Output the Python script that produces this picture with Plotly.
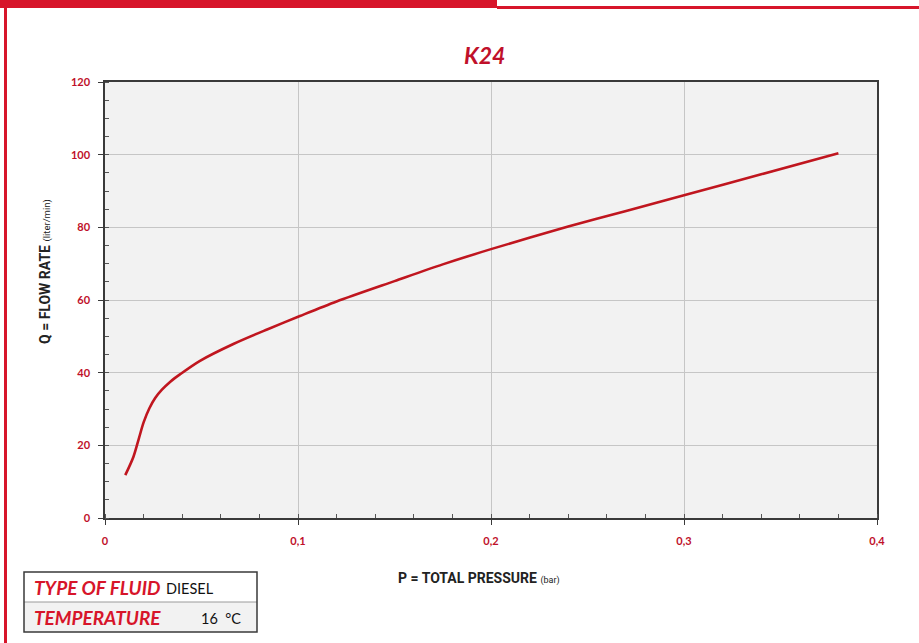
import plotly.graph_objects as go

# ---- data ----
pressure_bar = [0.0105, 0.0147, 0.0175, 0.0200, 0.0230, 0.0260, 0.0295, 0.0340, 0.0390,
                0.0490, 0.0665, 0.0840, 0.1010, 0.1200, 0.1500, 0.1750, 0.2000, 0.2400,
                0.2700, 0.3000, 0.3400, 0.3800]
flow_lpm = [11.8, 16.8, 21.8, 26.3, 30.2, 33.0, 35.3, 37.6, 39.6,
            43.2, 47.9, 51.9, 55.6, 59.6, 65.2, 69.8, 74.0, 80.2,
            84.5, 88.8, 94.6, 100.4]
x_ticks = [0, 0.1, 0.2, 0.3, 0.4]
y_ticks = [0, 20, 40, 60, 80, 100, 120]
title_text = "K24"
x_title = "P = TOTAL PRESSURE"
x_unit = "(bar)"
y_title = "Q = FLOW RATE"
y_unit = "(liter/min)"
fluid_label, fluid_value = "TYPE OF FLUID", "DIESEL"
temp_label, temp_value = "TEMPERATURE", "16  °C"

W, H = 919, 643
L, R, T, B = 105, 877, 82, 518  # plot area in pixels
RED = "#d7152a"
CURVE = "#c0161f"
FONT = "Lato, 'Open Sans', sans-serif"
NARROW = "'Liberation Sans Narrow', Roboto, sans-serif"


def px(xp):
    return (xp - L) / (R - L)


def py(yp):
    return (B - yp) / (B - T)


fig = go.Figure()
fig.add_trace(go.Scatter(x=pressure_bar, y=flow_lpm, mode="lines",
                         line=dict(color=CURVE, width=2.6, shape="spline", smoothing=0.8),
                         hoverinfo="x+y", showlegend=False))

axis_common = dict(showline=True, linecolor="#3a3a3a", linewidth=1.5, mirror=True,
                   showgrid=True, gridcolor="#c6c6c6", gridwidth=1, zeroline=False,
                   ticks="outside", ticklen=5, tickcolor="#3a3a3a", tickwidth=1,
                   tickfont=dict(family=FONT, size=11, color="#c0102a", weight="bold"))

fig.update_xaxes(range=[0, 0.4], tickvals=x_ticks, ticklabelstandoff=7,
                 minor=dict(dtick=0.02, ticks="inside", ticklen=4, tickcolor="#555", showgrid=False),
                 **axis_common)
fig.update_yaxes(range=[0, 120], tickvals=y_ticks, ticklabelstandoff=6,
                 minor=dict(dtick=5, ticks="inside", ticklen=4, tickcolor="#555", showgrid=False),
                 **axis_common)

shapes = [
    # red top bar and line
    dict(type="rect", x0=px(0), x1=px(497), y0=py(0), y1=py(8), fillcolor=RED, line_width=0),
    dict(type="rect", x0=px(497), x1=px(919), y0=py(6), y1=py(9), fillcolor=RED, line_width=0),
    # left red line
    dict(type="rect", x0=px(4), x1=px(7), y0=py(6), y1=py(643), fillcolor=RED, line_width=0),
    # info table
    dict(type="rect", x0=px(24), x1=px(257), y0=py(572), y1=py(602), fillcolor="white", line_width=0),
    dict(type="rect", x0=px(24), x1=px(257), y0=py(602), y1=py(632), fillcolor="#f2f2f2", line_width=0),
    dict(type="line", x0=px(24), x1=px(257), y0=py(602), y1=py(602), line=dict(color="#9a9a9a", width=1)),
    dict(type="rect", x0=px(24), x1=px(257), y0=py(572), y1=py(632), line=dict(color="#3a3a3a", width=1.5)),
]

annotations = [
    dict(text=f"<b><i>{title_text}</i></b>", x=px(484), y=py(55), xanchor="center",
         font=dict(family=FONT, size=23, color="#c0102a")),
    dict(text=f"<b>{x_title}</b> <span style='font-size:9px'>{x_unit}</span>", x=px(479), y=py(578),
         xanchor="center", font=dict(family=NARROW, size=14, color="#222")),
    dict(text=f"<b>{y_title}</b> <span style='font-size:9.5px'>{y_unit}</span>", x=px(45), y=py(272),
         xanchor="center", textangle=-90, font=dict(family=NARROW, size=14, color="#222")),
    dict(text=f"<b><i>{fluid_label}</i></b>", x=px(32), y=py(587), xanchor="left",
         font=dict(family=FONT, size=19, color="#d7152a")),
    dict(text=fluid_value, x=px(164), y=py(588), xanchor="left",
         font=dict(family=FONT, size=14.5, color="#111")),
    dict(text=f"<b><i>{temp_label}</i></b>", x=px(32), y=py(617), xanchor="left",
         font=dict(family=FONT, size=19, color="#d7152a")),
    dict(text=temp_value, x=px(199), y=py(618), xanchor="left",
         font=dict(family=FONT, size=14.5, color="#111")),
]
for a in annotations:
    a.update(xref="paper", yref="paper", yanchor="middle", showarrow=False)
for s in shapes:
    s.update(xref="paper", yref="paper")

fig.update_layout(width=W, height=H, margin=dict(l=L, r=W - R, t=T, b=H - B),
                  paper_bgcolor="white", plot_bgcolor="#f2f2f2",
                  separators=",.", shapes=shapes, annotations=annotations,
                  showlegend=False)

fig.write_html("out.html", config={"displayModeBar": False},
               post_script="document.body.style.margin='0';")
